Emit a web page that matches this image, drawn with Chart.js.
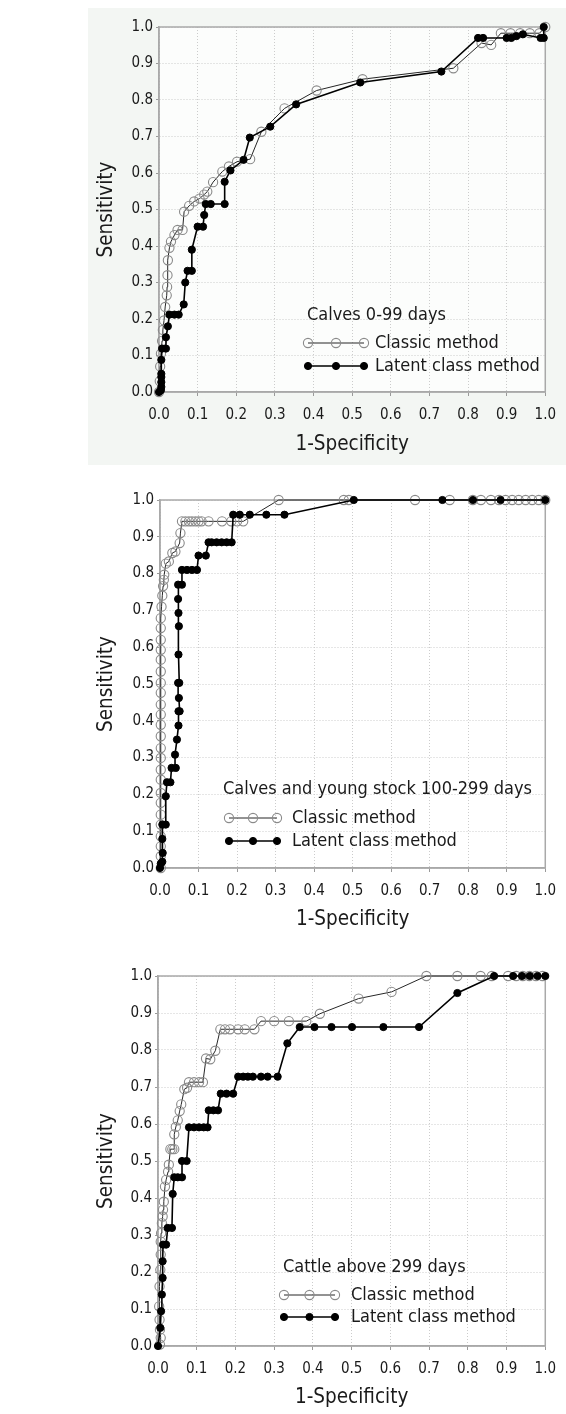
<!DOCTYPE html>
<html>
<head>
<meta charset="utf-8">
<title>ROC curves</title>
<script src="https://cdn.jsdelivr.net/npm/chart.js@4.4.1/dist/chart.umd.min.js"></script>
<style>
  body { margin: 0; background: #fff; width: 566px; height: 1414px; position: relative; overflow: hidden; }
  .panel { position: absolute; left: 0; }
  #bg1 { position: absolute; left: 88px; top: 8px; width: 478px; height: 457px; background: #f3f6f3; }
</style>
</head>
<body>
<div id="bg1"></div>
<canvas id="roc1" class="panel" width="566" height="470" style="top:0"></canvas>
<canvas id="roc2" class="panel" width="566" height="470" style="top:470px"></canvas>
<canvas id="roc3" class="panel" width="566" height="469" style="top:945px"></canvas>
<script>
// ROC points: x = 1-specificity, y = sensitivity
const calvesClassicX = [0, 0.002, 0.003, 0.005, 0.008, 0.01, 0.013, 0.016, 0.02, 0.021, 0.022, 0.023, 0.027, 0.031, 0.04, 0.048, 0.061, 0.065, 0.078, 0.091, 0.105, 0.117, 0.125, 0.14, 0.164, 0.181, 0.202, 0.236, 0.265, 0.325, 0.408, 0.527, 0.762, 0.835, 0.86, 0.885, 0.91, 0.935, 0.96, 0.985, 1];
const calvesClassicY = [0, 0.03, 0.07, 0.105, 0.14, 0.17, 0.196, 0.233, 0.265, 0.288, 0.32, 0.361, 0.395, 0.412, 0.43, 0.444, 0.444, 0.494, 0.51, 0.522, 0.53, 0.541, 0.549, 0.575, 0.604, 0.618, 0.631, 0.638, 0.713, 0.777, 0.826, 0.857, 0.887, 0.956, 0.951, 0.983, 0.983, 0.983, 0.983, 0.983, 1];
const calvesLatentX = [0, 0.005, 0.006, 0.006, 0.006, 0.006, 0.006, 0.008, 0.018, 0.018, 0.023, 0.027, 0.04, 0.051, 0.064, 0.068, 0.074, 0.085, 0.085, 0.1, 0.114, 0.117, 0.121, 0.134, 0.17, 0.17, 0.185, 0.219, 0.235, 0.288, 0.355, 0.521, 0.731, 0.826, 0.839, 0.9, 0.912, 0.925, 0.942, 0.988, 0.996, 0.996];
const calvesLatentY = [0, 0.005, 0.014, 0.027, 0.041, 0.05, 0.088, 0.119, 0.119, 0.15, 0.18, 0.212, 0.212, 0.212, 0.24, 0.3, 0.332, 0.332, 0.39, 0.453, 0.453, 0.485, 0.515, 0.515, 0.515, 0.576, 0.607, 0.636, 0.697, 0.727, 0.788, 0.848, 0.878, 0.97, 0.97, 0.97, 0.97, 0.975, 0.98, 0.97, 0.97, 1];

const youngClassicX = [0.002, 0.002, 0.002, 0.002, 0.002, 0.002, 0.002, 0.002, 0.002, 0.002, 0.002, 0.002, 0.002, 0.002, 0.002, 0.002, 0.002, 0.002, 0.002, 0.002, 0.002, 0.002, 0.002, 0.002, 0.004, 0.006, 0.008, 0.01, 0.011, 0.015, 0.023, 0.032, 0.04, 0.051, 0.053, 0.057, 0.066, 0.075, 0.083, 0.092, 0.1, 0.108, 0.126, 0.161, 0.185, 0.2, 0.216, 0.308, 0.477, 0.49, 0.662, 0.752, 0.812, 0.833, 0.859, 0.88, 0.897, 0.914, 0.931, 0.949, 0.966, 0.983, 1];
const youngClassicY = [0, 0.032, 0.059, 0.086, 0.118, 0.145, 0.177, 0.204, 0.24, 0.267, 0.299, 0.326, 0.358, 0.389, 0.417, 0.444, 0.476, 0.503, 0.534, 0.566, 0.593, 0.62, 0.652, 0.679, 0.71, 0.74, 0.766, 0.783, 0.797, 0.827, 0.833, 0.856, 0.86, 0.883, 0.91, 0.942, 0.942, 0.942, 0.942, 0.942, 0.942, 0.942, 0.942, 0.942, 0.942, 0.942, 0.942, 1, 1, 1, 1, 1, 1, 1, 1, 1, 1, 1, 1, 1, 1, 1, 1];
const youngLatentX = [0, 0.002, 0.006, 0.007, 0.006, 0.006, 0.015, 0.015, 0.018, 0.027, 0.03, 0.041, 0.039, 0.044, 0.048, 0.048, 0.051, 0.049, 0.047, 0.05, 0.048, 0.049, 0.048, 0.047, 0.047, 0.057, 0.057, 0.07, 0.083, 0.096, 0.1, 0.119, 0.126, 0.134, 0.147, 0.16, 0.173, 0.186, 0.19, 0.207, 0.233, 0.276, 0.323, 0.503, 0.733, 0.812, 0.884, 1];
const youngLatentY = [0, 0.012, 0.017, 0.041, 0.079, 0.118, 0.118, 0.195, 0.233, 0.233, 0.272, 0.272, 0.308, 0.349, 0.387, 0.426, 0.426, 0.462, 0.503, 0.503, 0.58, 0.657, 0.693, 0.731, 0.77, 0.77, 0.81, 0.81, 0.81, 0.81, 0.849, 0.849, 0.885, 0.885, 0.885, 0.885, 0.885, 0.885, 0.96, 0.96, 0.96, 0.96, 0.96, 1, 1, 1, 1, 1];

const cattleClassicX = [0.005, 0.007, 0.005, 0.004, 0.003, 0.004, 0.006, 0.007, 0.007, 0.008, 0.01, 0.012, 0.013, 0.015, 0.018, 0.021, 0.026, 0.028, 0.032, 0.037, 0.042, 0.042, 0.046, 0.051, 0.056, 0.06, 0.068, 0.075, 0.08, 0.093, 0.106, 0.116, 0.124, 0.135, 0.148, 0.161, 0.173, 0.186, 0.207, 0.224, 0.249, 0.266, 0.3, 0.338, 0.383, 0.418, 0.518, 0.603, 0.693, 0.773, 0.833, 0.862, 0.904, 0.925, 0.942, 0.959, 0.976, 0.993];
const cattleClassicY = [0.004, 0.022, 0.044, 0.071, 0.107, 0.161, 0.206, 0.247, 0.282, 0.305, 0.332, 0.35, 0.368, 0.39, 0.431, 0.449, 0.471, 0.49, 0.532, 0.532, 0.532, 0.572, 0.592, 0.61, 0.635, 0.653, 0.694, 0.698, 0.713, 0.713, 0.713, 0.713, 0.777, 0.775, 0.798, 0.856, 0.856, 0.856, 0.856, 0.856, 0.856, 0.878, 0.878, 0.878, 0.878, 0.898, 0.939, 0.957, 1, 1, 1, 1, 1, 1, 1, 1, 1, 1];
const cattleLatentX = [0, 0.006, 0.008, 0.01, 0.012, 0.012, 0.013, 0.021, 0.025, 0.036, 0.038, 0.042, 0.051, 0.062, 0.062, 0.074, 0.08, 0.093, 0.106, 0.118, 0.128, 0.131, 0.143, 0.155, 0.162, 0.177, 0.194, 0.207, 0.22, 0.232, 0.245, 0.266, 0.283, 0.309, 0.334, 0.366, 0.404, 0.448, 0.501, 0.582, 0.674, 0.773, 0.868, 0.917, 0.94, 0.96, 0.98, 1];
const cattleLatentY = [0, 0.049, 0.094, 0.139, 0.184, 0.229, 0.274, 0.274, 0.319, 0.319, 0.411, 0.456, 0.456, 0.456, 0.5, 0.5, 0.591, 0.591, 0.591, 0.591, 0.591, 0.637, 0.637, 0.637, 0.682, 0.682, 0.682, 0.728, 0.728, 0.728, 0.728, 0.728, 0.728, 0.728, 0.818, 0.862, 0.862, 0.862, 0.862, 0.862, 0.862, 0.954, 1, 1, 1, 1, 1, 1];

const axisTicks = [0, 0.1, 0.2, 0.3, 0.4, 0.5, 0.6, 0.7, 0.8, 0.9, 1.0];
const panelTitles = ['Calves 0-99 days', 'Calves and young stock 100-299 days', 'Cattle above 299 days'];
const seriesNames = ['Classic method', 'Latent class method'];

const FONT = "'DejaVu Sans Condensed', 'DejaVu Sans', sans-serif";
const TICK_SIZE = 15;
const TITLE_SIZE = 20.5;
const LEGEND_SIZE = 18;
const TEXT_COLOR = '#1a1a1a';

Chart.defaults.font.family = FONT;
Chart.defaults.color = TEXT_COLOR;

function toPoints(xs, ys) {
    return xs.map((x, i) => ({ x: x, y: ys[i] }));
}

// fills the plot box and draws the grey frame around it
const framePlugin = {
    id: 'frame',
    beforeDraw(chart, args, opts) {
        if (!opts.fill) return;
        const a = chart.chartArea;
        chart.ctx.save();
        chart.ctx.fillStyle = opts.fill;
        chart.ctx.fillRect(a.left, a.top, a.right - a.left, a.bottom - a.top);
        chart.ctx.restore();
    },
    beforeDatasetsDraw(chart) {
        const a = chart.chartArea;
        const ctx = chart.ctx;
        ctx.save();
        ctx.strokeStyle = '#a9a9a9';
        ctx.lineWidth = 1.5;
        ctx.strokeRect(a.left, a.top, a.right - a.left, a.bottom - a.top);
        ctx.restore();
    }
};

// legend block inside the plot: title plus one line-with-markers row per dataset
const rocLegend = {
    id: 'rocLegend',
    afterDatasetsDraw(chart, args, opts) {
        const ctx = chart.ctx;
        ctx.save();
        ctx.font = LEGEND_SIZE + 'px ' + FONT;
        ctx.fillStyle = TEXT_COLOR;
        ctx.textBaseline = 'middle';
        ctx.textAlign = 'left';
        ctx.fillText(opts.title, opts.x, opts.y);
        chart.data.datasets.forEach((ds, i) => {
            const y = opts.y + opts.firstGap + i * opts.rowGap;
            const x0 = opts.lineX;
            const x1 = opts.lineX + opts.lineLen;
            ctx.strokeStyle = ds.borderColor;
            ctx.lineWidth = ds.borderWidth;
            ctx.beginPath();
            ctx.moveTo(x0, y);
            ctx.lineTo(x1, y);
            ctx.stroke();
            [x0, (x0 + x1) / 2, x1].forEach(mx => {
                ctx.beginPath();
                ctx.arc(mx, y, ds.pointRadius, 0, Math.PI * 2);
                if (ds.pointBackgroundColor !== 'transparent') {
                    ctx.fillStyle = ds.pointBackgroundColor;
                    ctx.fill();
                }
                ctx.strokeStyle = ds.pointBorderColor;
                ctx.lineWidth = ds.pointBorderWidth;
                ctx.stroke();
            });
            ctx.fillStyle = TEXT_COLOR;
            ctx.fillText(ds.label, opts.lineX + opts.textOffset, y);
        });
        ctx.restore();
    }
};

function makeRoc(canvasId, p) {
    const canvas = document.getElementById(canvasId);
    const lh = TITLE_SIZE * 1.2;
    return new Chart(canvas, {
        type: 'scatter',
        data: {
            datasets: [
                {
                    label: seriesNames[0],
                    data: toPoints(p.classicX, p.classicY),
                    showLine: true,
                    borderColor: '#262626',
                    borderWidth: 1,
                    pointRadius: 4.6,
                    pointBorderColor: '#8a8a8a',
                    pointBackgroundColor: 'transparent',
                    pointBorderWidth: 1.1,
                    clip: false,
                    order: 1
                },
                {
                    label: seriesNames[1],
                    data: toPoints(p.latentX, p.latentY),
                    showLine: true,
                    borderColor: '#000',
                    borderWidth: 1.6,
                    pointRadius: 3.6,
                    pointBorderColor: '#000',
                    pointBackgroundColor: '#000',
                    pointBorderWidth: 1,
                    clip: false,
                    order: 0
                }
            ]
        },
        options: {
            responsive: false,
            animation: false,
            layout: { padding: { left: 90, right: 566 - p.right, top: p.top, bottom: 0 } },
            scales: {
                x: {
                    type: 'linear',
                    min: 0,
                    max: 1,
                    afterBuildTicks: s => { s.ticks = axisTicks.map(v => ({ value: v })); },
                    afterFit: s => { s.height = canvas.height - p.bottom; },
                    ticks: { font: { size: TICK_SIZE }, padding: 10, color: TEXT_COLOR, callback: v => v.toFixed(1) },
                    grid: { color: '#cccccc', tickColor: '#9a9a9a', tickLength: 4 },
                    border: { color: '#a9a9a9', width: 1.5, dash: [1, 2] },
                    title: {
                        display: true,
                        text: '1-Specificity',
                        font: { size: TITLE_SIZE },
                        color: TEXT_COLOR,
                        padding: { top: 0, bottom: canvas.height - p.xTitle - lh / 2 }
                    }
                },
                y: {
                    type: 'linear',
                    min: 0,
                    max: 1,
                    afterBuildTicks: s => { s.ticks = axisTicks.map(v => ({ value: v })); },
                    afterFit: s => { s.width = p.left - 90; },
                    ticks: { font: { size: TICK_SIZE }, padding: 3, color: TEXT_COLOR, callback: v => v.toFixed(1) },
                    grid: { color: '#cccccc', tickColor: '#9a9a9a', tickLength: 3 },
                    border: { color: '#a9a9a9', width: 1.5, dash: [1, 2] },
                    title: {
                        display: true,
                        text: 'Sensitivity',
                        font: { size: TITLE_SIZE },
                        color: TEXT_COLOR,
                        padding: { top: 4, bottom: 0 }
                    }
                }
            },
            plugins: {
                legend: { display: false },
                tooltip: { enabled: false },
                frame: { fill: p.plotFill },
                rocLegend: p.legend
            }
        },
        plugins: [framePlugin, rocLegend]
    });
}

makeRoc('roc1', {
    classicX: calvesClassicX, classicY: calvesClassicY,
    latentX: calvesLatentX, latentY: calvesLatentY,
    left: 159, right: 550, top: 27, bottom: 392, xTitle: 445,
    plotFill: '#fcfdfc',
    legend: { title: panelTitles[0], x: 307, y: 315, firstGap: 28, rowGap: 23, lineX: 308, lineLen: 56, textOffset: 67 }
});
makeRoc('roc2', {
    classicX: youngClassicX, classicY: youngClassicY,
    latentX: youngLatentX, latentY: youngLatentY,
    left: 160, right: 550, top: 30, bottom: 398, xTitle: 450,
    plotFill: null,
    legend: { title: panelTitles[1], x: 223, y: 319, firstGap: 29, rowGap: 23, lineX: 229, lineLen: 48, textOffset: 63 }
});
makeRoc('roc3', {
    classicX: cattleClassicX, classicY: cattleClassicY,
    latentX: cattleLatentX, latentY: cattleLatentY,
    left: 158, right: 553, top: 31, bottom: 401, xTitle: 453,
    plotFill: null,
    legend: { title: panelTitles[2], x: 283, y: 322, firstGap: 28, rowGap: 22, lineX: 284, lineLen: 51, textOffset: 67 }
});
</script>
</body>
</html>
